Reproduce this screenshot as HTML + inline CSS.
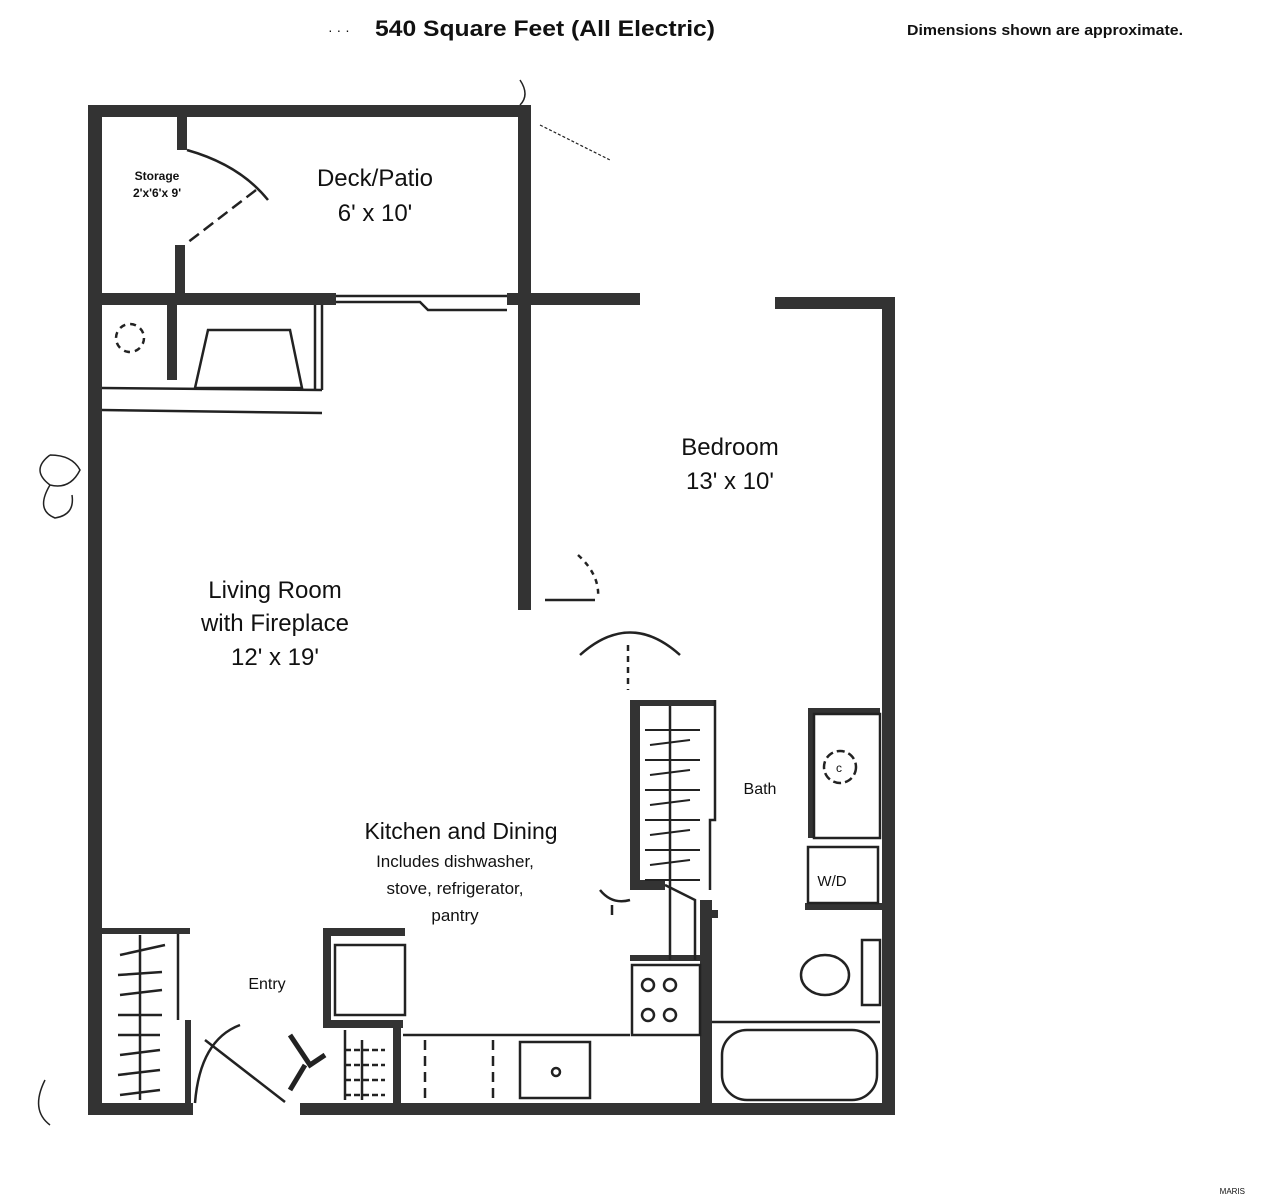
<!DOCTYPE html>
<html><head><meta charset="utf-8"><style>
html,body{margin:0;padding:0;background:#fff;}
svg{display:block;}
text{font-family:"Liberation Sans",sans-serif;fill:#111;}
</style></head><body>
<svg width="1262" height="1200" viewBox="0 0 1262 1200" xmlns="http://www.w3.org/2000/svg">
<rect width="1262" height="1200" fill="#fff"/>
<text x="545" y="36" font-size="22" font-weight="bold" text-anchor="middle" textLength="340" lengthAdjust="spacingAndGlyphs">540 Square Feet (All Electric)</text>
<text x="907" y="35" font-size="15" font-weight="bold" textLength="276" lengthAdjust="spacingAndGlyphs">Dimensions shown are approximate.</text>
<text x="328" y="35" font-size="14">· · ·</text>

<g fill="#333">
<rect x="88" y="105" width="14" height="1010"/>
<rect x="88" y="105" width="442" height="12"/>
<rect x="518" y="105" width="13" height="505"/>
<rect x="88" y="293" width="248" height="12"/>
<rect x="507" y="293" width="133" height="12"/>
<rect x="775" y="297" width="120" height="12"/>
<rect x="882" y="297" width="13" height="818"/>
<rect x="88" y="1103" width="105" height="12"/>
<rect x="300" y="1103" width="595" height="12"/>
<rect x="177" y="117" width="10" height="33"/>
<rect x="175" y="245" width="10" height="50"/>
<rect x="167" y="305" width="10" height="75"/>
<rect x="630" y="700" width="10" height="190"/>
<rect x="630" y="880" width="35" height="10"/>
<rect x="630" y="700" width="85" height="6"/>
<rect x="700" y="900" width="12" height="210"/>
<rect x="700" y="910" width="18" height="8"/>
<rect x="630" y="955" width="75" height="6"/>
<rect x="808" y="708" width="72" height="6"/>
<rect x="808" y="708" width="6" height="130"/>
<rect x="805" y="903" width="77" height="7"/>
<rect x="98" y="928" width="92" height="6"/>
<rect x="185" y="1020" width="6" height="85"/>
<rect x="323" y="928" width="8" height="100"/>
<rect x="323" y="928" width="82" height="8"/>
<rect x="323" y="1020" width="80" height="8"/>
<rect x="393" y="1020" width="8" height="85"/>
</g>

<g fill="none" stroke="#222" stroke-width="2.5">
<path d="M187 150 Q240 165 268 200"/>
<path d="M256 190 L187 243" stroke-dasharray="12 6"/>
<path d="M336 296 L507 296 M336 302 L420 302 L428 310 L507 310"/>
<path d="M208 330 L290 330 L302 388 L195 388 Z"/>
<path d="M315 305 L315 390 M322 305 L322 390"/>
<path d="M102 388 L322 390 M102 410 L322 413"/>
<circle cx="130" cy="338" r="14" stroke-dasharray="6 5"/>
<path d="M520 80 Q530 95 520 105" stroke-width="1.5"/>
<path d="M540 125 Q580 145 610 160" stroke-width="1.2" stroke-dasharray="3 2"/>
<path d="M545 600 L595 600"/>
<path d="M578 555 Q600 575 598 598" stroke-dasharray="5 5"/>
<path d="M580 655 Q630 610 680 655"/>
<path d="M628 645 L628 690" stroke-dasharray="6 5"/>
<path d="M715 700 L715 820 L710 820 L710 890"/>
<path d="M670 706 L670 960"/>
<path d="M665 885 L695 900 L695 960"/>
<path d="M645 730 L700 730 M645 760 L700 760 M645 790 L700 790 M645 820 L700 820 M645 850 L700 850 M645 880 L700 880 M650 745 L690 740 M650 775 L690 770 M650 805 L690 800 M650 835 L690 830 M650 865 L690 860" stroke-width="2"/>
<path d="M600 890 Q612 905 630 900 M612 905 L612 915"/>
<rect x="814" y="714" width="66" height="124"/>
<circle cx="840" cy="767" r="16" stroke-dasharray="8 4"/>
<text x="836" y="772" font-size="12" stroke="none">c</text>
<rect x="808" y="847" width="70" height="56"/>
<rect x="862" y="940" width="18" height="65"/>
<ellipse cx="825" cy="975" rx="24" ry="20"/>
<path d="M712 1022 L880 1022"/>
<rect x="722" y="1030" width="155" height="70" rx="25"/>
<rect x="632" y="965" width="68" height="70"/>
<circle cx="648" cy="985" r="6"/><circle cx="670" cy="985" r="6"/>
<circle cx="648" cy="1015" r="6"/><circle cx="670" cy="1015" r="6"/>
<path d="M403 1035 L630 1035"/>
<path d="M425 1040 L425 1100 M493 1040 L493 1100" stroke-dasharray="10 6"/>
<rect x="520" y="1042" width="70" height="56"/>
<circle cx="556" cy="1072" r="4"/>
<rect x="335" y="945" width="70" height="70"/>
<path d="M345 1030 L345 1100 M362 1040 L362 1100" />
<path d="M345 1050 L385 1050 M345 1065 L385 1065 M345 1080 L385 1080 M345 1095 L385 1095" stroke-dasharray="6 3"/>
<path d="M140 935 L140 1100 M178 934 L178 1020"/>
<path d="M120 955 L165 945 M118 975 L162 972 M120 995 L162 990 M118 1015 L162 1015 M118 1035 L160 1035 M120 1055 L160 1050 M118 1075 L160 1070 M120 1095 L160 1090"/>
<path d="M195 1103 Q200 1040 240 1025"/>
<path d="M205 1040 L285 1102"/>
<path d="M290 1035 L310 1065 L325 1055 M305 1065 L290 1090" stroke-width="5"/>
<path d="M50 455 Q30 470 50 485 Q70 490 80 470 Q72 455 50 455 M50 485 Q35 510 55 518 Q75 515 72 495" stroke-width="1.5"/>
<path d="M45 1080 Q30 1110 50 1125" stroke-width="1.5"/>
</g>

<text x="157" y="180" font-size="12" font-weight="bold" text-anchor="middle">Storage</text>
<text x="157" y="197" font-size="12" font-weight="bold" text-anchor="middle">2'x'6'x 9'</text>
<text x="375" y="186" font-size="24" text-anchor="middle">Deck/Patio</text>
<text x="375" y="221" font-size="24" text-anchor="middle">6' x 10'</text>
<text x="730" y="455" font-size="24" text-anchor="middle">Bedroom</text>
<text x="730" y="489" font-size="24" text-anchor="middle">13' x 10'</text>
<text x="275" y="598" font-size="24" text-anchor="middle">Living Room</text>
<text x="275" y="631" font-size="24" text-anchor="middle">with Fireplace</text>
<text x="275" y="665" font-size="24" text-anchor="middle">12' x 19'</text>
<text x="461" y="839" font-size="23" text-anchor="middle">Kitchen and Dining</text>
<text x="455" y="867" font-size="17" text-anchor="middle">Includes dishwasher,</text>
<text x="455" y="894" font-size="17" text-anchor="middle">stove, refrigerator,</text>
<text x="455" y="921" font-size="17" text-anchor="middle">pantry</text>
<text x="760" y="794" font-size="16" text-anchor="middle">Bath</text>
<text x="832" y="886" font-size="15" text-anchor="middle">W/D</text>
<text x="267" y="989" font-size="16" text-anchor="middle">Entry</text>
<text x="1245" y="1194" font-size="8" fill="#999" text-anchor="end">MARIS</text>
</svg>
</body></html>
